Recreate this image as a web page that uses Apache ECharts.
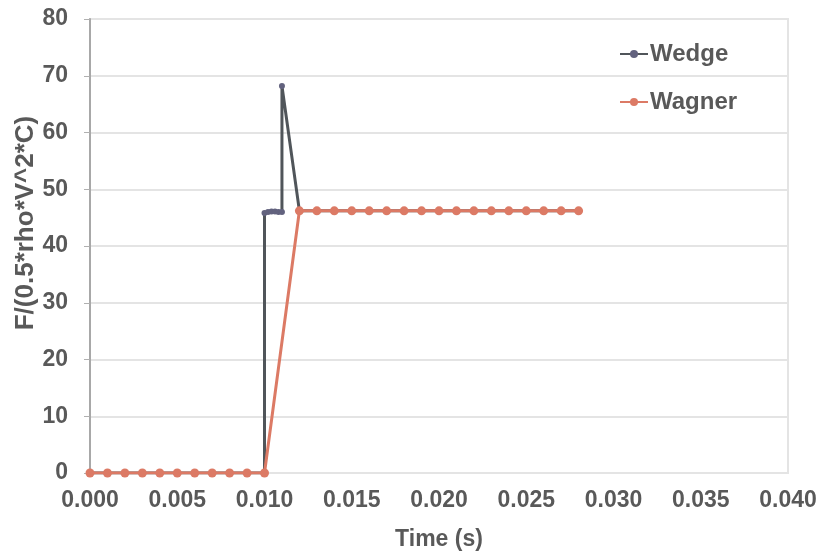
<!DOCTYPE html>
<html>
<head>
<meta charset="utf-8">
<script src="https://cdn.jsdelivr.net/npm/echarts@6/dist/echarts.min.js"></script>
<style>html,body{margin:0;padding:0;background:#fff}#c{width:824px;height:551px}</style>
</head>
<body>
<div id="c"></div>
<script>
// Data
const wedgeTime = [0,0.001,0.002,0.003,0.004,0.005,0.006,0.007,0.008,0.009,0.010,0.010,0.0102,0.0104,0.0106,0.0108,0.011,0.011,0.012,0.013,0.014,0.015,0.016,0.017,0.018,0.019,0.020,0.021,0.022,0.023,0.024,0.025,0.026,0.027,0.028];
const wedgeForce = [0,0,0,0,0,0,0,0,0,0,0,45.8,46.0,46.1,46.1,46.0,46.0,68.2,46.2,46.2,46.2,46.2,46.2,46.2,46.2,46.2,46.2,46.2,46.2,46.2,46.2,46.2,46.2,46.2,46.2];
const wagnerTime = [0,0.001,0.002,0.003,0.004,0.005,0.006,0.007,0.008,0.009,0.010,0.012,0.013,0.014,0.015,0.016,0.017,0.018,0.019,0.020,0.021,0.022,0.023,0.024,0.025,0.026,0.027,0.028];
const wagnerForce = [0,0,0,0,0,0,0,0,0,0,0,46.2,46.2,46.2,46.2,46.2,46.2,46.2,46.2,46.2,46.2,46.2,46.2,46.2,46.2,46.2,46.2,46.2];
const xTicks = { min: 0, max: 0.04, step: 0.005 };
const yTicks = { min: 0, max: 80, step: 10 };

const pair = (xs, ys) => xs.map((x, i) => [x, ys[i]]);
const txt = '#595959';
const font = "'Liberation Sans', Arial, sans-serif";

const chart = echarts.init(document.getElementById('c'), null, { renderer: 'canvas' });
chart.setOption({
  animation: false,
  backgroundColor: '#ffffff',
  grid: { left: 90, right: 36, top: 19, bottom: 78, show: true, borderColor: '#e4e4e4', borderWidth: 2, containLabel: false, outerBoundsMode: 'none' },
  legend: {
    orient: 'vertical', left: 614, top: 37, itemGap: 24, itemWidth: 28, itemHeight: 10,
    textStyle: { color: txt, fontSize: 24, fontWeight: 'bold', fontFamily: font, padding: [0, 0, 0, -3] },
    data: ['Wedge', 'Wagner']
  },
  xAxis: {
    type: 'value', min: xTicks.min, max: xTicks.max, interval: xTicks.step,
    name: 'Time (s)', nameLocation: 'middle', nameGap: 55, nameMoveOverlap: false,
    nameTextStyle: { color: txt, fontSize: 23, fontWeight: 'bold', fontFamily: font },
    axisLine: { show: false },
    axisTick: { show: false },
    splitLine: { show: false },
    axisLabel: { color: txt, fontSize: 23, fontWeight: 'bold', fontFamily: font, margin: 16,
      formatter: v => v.toFixed(3) }
  },
  yAxis: {
    type: 'value', min: yTicks.min, max: yTicks.max, interval: yTicks.step,
    name: 'F/(0.5*rho*V^2*C)', nameLocation: 'middle', nameGap: 51, nameRotate: 90, nameMoveOverlap: false,
    nameTextStyle: { color: txt, fontSize: 26, fontWeight: 'bold', fontFamily: font, padding: [0, 0, 0, 46] },
    axisLine: { show: true, lineStyle: { color: '#a8a8a8', width: 2 } },
    axisTick: { show: true, length: 6, lineStyle: { color: '#b0b0b0', width: 1 } },
    splitLine: { show: true, lineStyle: { color: '#e4e4e4', width: 2 } },
    axisLabel: { color: txt, fontSize: 23, fontWeight: 'bold', fontFamily: font, margin: 22 }
  },
  series: [
    {
      name: 'Wedge', type: 'line', data: pair(wedgeTime, wedgeForce),
      symbol: 'circle', symbolSize: 6, showSymbol: true,
      lineStyle: { color: '#50555a', width: 3 },
      itemStyle: { color: '#62627e' }
    },
    {
      name: 'Wagner', type: 'line', data: pair(wagnerTime, wagnerForce),
      symbol: 'circle', symbolSize: 9,
      lineStyle: { color: '#dc7a65', width: 3 },
      itemStyle: { color: '#dc7a65' }
    }
  ]
});
</script>
</body>
</html>
